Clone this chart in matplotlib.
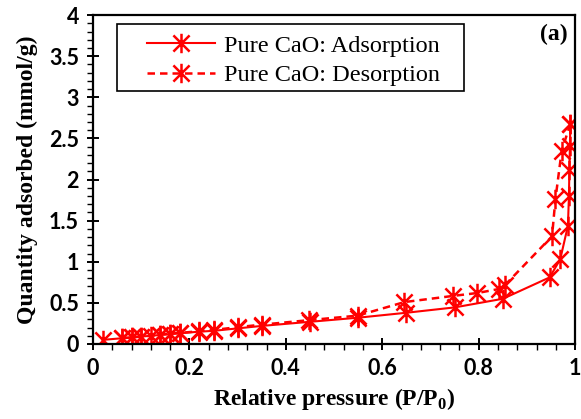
import matplotlib
matplotlib.use('Agg')
import matplotlib.pyplot as plt
from matplotlib.path import Path
from matplotlib.patches import Rectangle
from matplotlib.ticker import MultipleLocator, FuncFormatter

# Pure CaO N2 isotherm
p_ads = [0.02, 0.06, 0.08, 0.10, 0.14, 0.16, 0.18, 0.22, 0.25, 0.30, 0.35, 0.45,
         0.55, 0.65, 0.75, 0.85, 0.947, 0.969, 0.985, 0.987, 0.988, 0.989, 0.99]
q_ads = [0.05, 0.07, 0.08, 0.09, 0.11, 0.12, 0.13, 0.15, 0.16, 0.19, 0.22, 0.27,
         0.32, 0.38, 0.445, 0.55, 0.81, 1.03, 1.44, 1.80, 2.12, 2.41, 2.68]

p_des = [0.99, 0.972, 0.959, 0.952, 0.855, 0.843, 0.797, 0.747, 0.646, 0.549, 0.448,
         0.35, 0.30, 0.25, 0.22, 0.18, 0.16, 0.14, 0.12, 0.10, 0.08, 0.06]
q_des = [2.68, 2.35, 1.76, 1.31, 0.72, 0.67, 0.62, 0.585, 0.51, 0.345, 0.29,
         0.235, 0.205, 0.17, 0.155, 0.135, 0.125, 0.115, 0.10, 0.09, 0.08, 0.07]

plt.rcParams['mathtext.fontset'] = 'custom'
plt.rcParams['mathtext.rm'] = 'Liberation Serif'
plt.rcParams['mathtext.bf'] = 'Liberation Serif:bold'

# excel style asterisk: X plus vertical bar
star = Path([(-1, -1), (1, 1), (-1, 1), (1, -1), (0, -1.2), (0, 1.2)],
            [Path.MOVETO, Path.LINETO, Path.MOVETO, Path.LINETO, Path.MOVETO, Path.LINETO])

fig = plt.figure(figsize=(5.81, 4.19), dpi=100)
ax = fig.add_axes([0.160, 0.179, 0.830, 0.785])

ax.plot(p_ads, q_ads, color='red', lw=1.5, marker=star, ms=14, mew=1.8,
        label='Pure CaO: Adsorption')
ax.plot(p_des, q_des, color='red', lw=1.8, ls=(0, (3, 2)), marker=star, ms=14, mew=1.8,
        label='Pure CaO: Desorption')

ax.set_xlim(0, 1)
ax.set_ylim(0, 4)
ax.xaxis.set_major_locator(MultipleLocator(0.2))
ax.xaxis.set_minor_locator(MultipleLocator(0.04))
ax.yaxis.set_major_locator(MultipleLocator(0.5))
ax.yaxis.set_minor_locator(MultipleLocator(0.1))
fmt = FuncFormatter(lambda v, pos: ('%g' % round(v, 2)))
ax.xaxis.set_major_formatter(fmt)
ax.yaxis.set_major_formatter(fmt)

for s in ax.spines.values():
    s.set_linewidth(1.6)
ax.tick_params(which='major', direction='inout', length=8, width=1.4, pad=6)
ax.tick_params(which='minor', direction='out', length=4, width=1.0)
for lab in ax.get_xticklabels() + ax.get_yticklabels():
    lab.set_fontfamily('Lato')
    lab.set_fontweight('bold')
    lab.set_fontsize(15.5)

ax.set_xlabel('Relative pressure (P/P$_\\mathbf{0}$)', fontfamily='Liberation Serif',
              fontweight='bold', fontsize=17, labelpad=5)
ax.set_ylabel('Quantity adsorbed (mmol/g)', fontfamily='Liberation Serif',
              fontweight='bold', fontsize=17, labelpad=8)

# legend without its own frame, box drawn separately (wider side padding)
ax.legend(loc='upper left', bbox_to_anchor=(0.112, 0.94), borderaxespad=0,
          prop={'family': 'Liberation Serif', 'size': 17.5}, frameon=False,
          handlelength=2.8, borderpad=0, labelspacing=0.3, handletextpad=0.35)
ax.add_patch(Rectangle((0.05, 0.768), 0.72, 0.205, transform=ax.transAxes,
                       fill=False, edgecolor='black', lw=1.2, zorder=5))

ax.text(0.985, 0.94, '(a)', transform=ax.transAxes, ha='right', va='center',
        fontfamily='Liberation Serif', fontweight='bold', fontsize=17)

fig.savefig('out.png', dpi=100)
